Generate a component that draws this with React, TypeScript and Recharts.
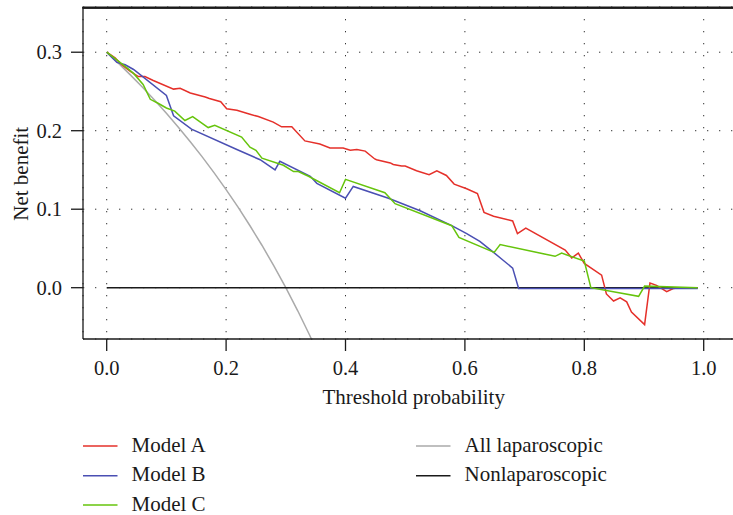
import React from 'react';
import { LineChart, Line, XAxis, YAxis, CartesianGrid, ReferenceLine } from 'recharts';

const FONT = '"Liberation Serif", "Times New Roman", serif';

const xTicks = [0, 0.2, 0.4, 0.6, 0.8, 1.0];
const yTicks = [0, 0.1, 0.2, 0.3];
const xDomain: [number, number] = [-0.0397, 1.0675];
const yDomain: [number, number] = [-0.06535, 0.3576];

const modelAThresholds = [0, 0.014, 0.025, 0.039, 0.053, 0.064, 0.078, 0.112, 0.123, 0.14, 0.165, 0.172, 0.191, 0.201, 0.218, 0.24, 0.254, 0.279, 0.293, 0.31, 0.332, 0.357, 0.374, 0.396, 0.408, 0.419, 0.433, 0.449, 0.452, 0.475, 0.48, 0.494, 0.5, 0.519, 0.54, 0.553, 0.569, 0.582, 0.603, 0.621, 0.632, 0.648, 0.68, 0.688, 0.702, 0.768, 0.779, 0.79, 0.8, 0.829, 0.837, 0.849, 0.86, 0.871, 0.879, 0.901, 0.91, 0.921, 0.938, 0.949, 0.96, 0.99];
const modelANetBenefit = [0.3, 0.293, 0.284, 0.276, 0.269, 0.269, 0.264, 0.253, 0.254, 0.248, 0.243, 0.241, 0.237, 0.228, 0.226, 0.221, 0.218, 0.211, 0.205, 0.205, 0.187, 0.183, 0.178, 0.178, 0.175, 0.176, 0.174, 0.164, 0.163, 0.159, 0.157, 0.155, 0.155, 0.149, 0.144, 0.149, 0.143, 0.132, 0.126, 0.12, 0.096, 0.091, 0.085, 0.069, 0.076, 0.048, 0.038, 0.044, 0.031, 0.016, -0.008, -0.017, -0.013, -0.018, -0.031, -0.047, 0.006, 0.003, -0.005, -0.001, 0, 0];

const modelBThresholds = [0, 0.017, 0.031, 0.045, 0.1, 0.112, 0.142, 0.218, 0.257, 0.282, 0.29, 0.341, 0.352, 0.4, 0.413, 0.472, 0.525, 0.578, 0.603, 0.625, 0.648, 0.664, 0.68, 0.69, 0.99];
const modelBNetBenefit = [0.3, 0.287, 0.284, 0.278, 0.245, 0.219, 0.202, 0.176, 0.163, 0.15, 0.161, 0.142, 0.133, 0.114, 0.129, 0.114, 0.098, 0.079, 0.069, 0.059, 0.045, 0.035, 0.025, -0.001, -0.001];

const modelCThresholds = [0, 0.019, 0.034, 0.045, 0.061, 0.073, 0.086, 0.1, 0.114, 0.131, 0.144, 0.17, 0.181, 0.226, 0.24, 0.25, 0.26, 0.296, 0.313, 0.321, 0.338, 0.39, 0.4, 0.466, 0.483, 0.578, 0.59, 0.649, 0.659, 0.751, 0.762, 0.8, 0.811, 0.891, 0.901, 0.99];
const modelCNetBenefit = [0.3, 0.289, 0.28, 0.273, 0.259, 0.24, 0.235, 0.229, 0.225, 0.213, 0.218, 0.204, 0.207, 0.192, 0.179, 0.175, 0.165, 0.156, 0.148, 0.148, 0.142, 0.121, 0.138, 0.121, 0.107, 0.079, 0.064, 0.045, 0.055, 0.04, 0.044, 0.034, 0.0, -0.011, 0.002, 0.0];

const allThresholds = [0, 0.02, 0.04, 0.06, 0.08, 0.1, 0.12, 0.14, 0.16, 0.18, 0.2, 0.22, 0.24, 0.26, 0.28, 0.3, 0.32, 0.34, 0.36];
const allNetBenefit = [0.3, 0.2857, 0.2708, 0.2553, 0.2391, 0.2222, 0.2045, 0.186, 0.1667, 0.1463, 0.125, 0.1026, 0.0789, 0.0541, 0.0278, 0.0, -0.0294, -0.0606, -0.0938];

const noneThresholds = [0, 0.99];
const noneNetBenefit = [0, 0];

const seriesNames = ['Model A', 'Model B', 'Model C', 'All laparoscopic', 'Nonlaparoscopic'];
const seriesColors = ['#e5302a', '#4a4fb3', '#66c40c', '#aaaaaa', '#1a1a1a'];

const toRows = (ts: number[], vs: number[]) => ts.map((t, i) => ({ t, v: vs[i] }));

const rowsA = toRows(modelAThresholds, modelANetBenefit);
const rowsB = toRows(modelBThresholds, modelBNetBenefit);
const rowsC = toRows(modelCThresholds, modelCNetBenefit);
const rowsAll = toRows(allThresholds, allNetBenefit);
const rowsNone = toRows(noneThresholds, noneNetBenefit);

const legendPos = [
  { x: 83, y: 446 },
  { x: 83, y: 475.7 },
  { x: 83, y: 505 },
  { x: 416, y: 446 },
  { x: 416, y: 475.7 },
];

export default function App() {
  const tickStyle = { fill: '#1a1a1a', fontSize: 20.5, fontFamily: FONT };
  return (
    <div style={{ position: 'fixed', left: 0, top: 0, width: 733, height: 515, overflow: 'hidden', background: '#fff' }}>
      <LineChart width={752} height={515} margin={{ top: 7, right: 8, bottom: 146, left: 0 }}>
        <CartesianGrid stroke="#333" strokeDasharray="1.3 10.7" />
        <XAxis
          type="number"
          dataKey="t"
          domain={xDomain}
          ticks={xTicks}
          allowDataOverflow
          tickFormatter={(v: number) => v.toFixed(1)}
          tickSize={12}
          tickMargin={9}
          height={30}
          stroke="#1a1a1a"
          strokeWidth={1.3}
          tick={tickStyle}
        />
        <YAxis
          type="number"
          dataKey="v"
          domain={yDomain}
          ticks={yTicks}
          allowDataOverflow
          tickFormatter={(v: number) => v.toFixed(1)}
          tickSize={12}
          tickMargin={9}
          width={83}
          stroke="#1a1a1a"
          strokeWidth={1.3}
          tick={tickStyle}
        />
        <ReferenceLine y={yDomain[1] - 0.0012} ifOverflow="visible" stroke="#1a1a1a" strokeWidth={1.8} />
        <Line data={rowsAll} dataKey="v" stroke={seriesColors[3]} strokeWidth={1.5} dot={false} isAnimationActive={false} />
        <Line data={rowsNone} dataKey="v" stroke={seriesColors[4]} strokeWidth={1.5} dot={false} isAnimationActive={false} />
        <Line data={rowsA} dataKey="v" stroke={seriesColors[0]} strokeWidth={1.5} dot={false} isAnimationActive={false} />
        <Line data={rowsB} dataKey="v" stroke={seriesColors[1]} strokeWidth={1.5} dot={false} isAnimationActive={false} />
        <Line data={rowsC} dataKey="v" stroke={seriesColors[2]} strokeWidth={1.5} dot={false} isAnimationActive={false} />
      </LineChart>
      <svg width={733} height={515} style={{ position: 'absolute', left: 0, top: 0, pointerEvents: 'none' }}>
        <rect x={82.3} y={6.5} width={651} height={2.2} fill="#1a1a1a" />
        <text x={413.7} y={404.3} textAnchor="middle" fontFamily={FONT} fontSize={21} fill="#1a1a1a">Threshold probability</text>
        <text x={0} y={0} transform="translate(28.3,173.8) rotate(-90)" textAnchor="middle" fontFamily={FONT} fontSize={21} fill="#1a1a1a">Net benefit</text>
        {seriesNames.map((name, i) => (
          <g key={name}>
            <line x1={legendPos[i].x} x2={legendPos[i].x + 34.5} y1={legendPos[i].y} y2={legendPos[i].y} stroke={seriesColors[i]} strokeWidth={1.5} />
            <text x={legendPos[i].x + 48.5} y={legendPos[i].y + 5.7} fontFamily={FONT} fontSize={21} fill="#1a1a1a">{name}</text>
          </g>
        ))}
      </svg>
    </div>
  );
}
